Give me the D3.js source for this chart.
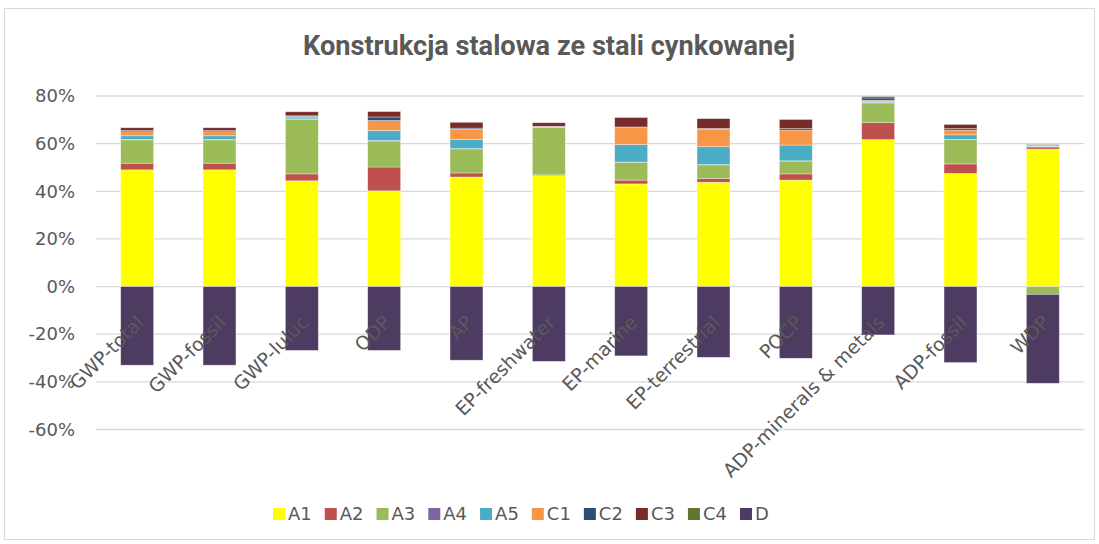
<!DOCTYPE html>
<html>
<head>
<meta charset="utf-8">
<script src="https://cdn.jsdelivr.net/npm/d3@7"></script>
<style>
  body { margin: 0; background: #fff; }
  text { font-family: "DejaVu Sans", "Liberation Sans", sans-serif; fill: #595959; }
</style>
</head>
<body>
<svg id="chart" width="1099" height="544"></svg>
<script>
// categories (impact indicators)
const categories = ["GWP-total", "GWP-fossil", "GWP-luluc", "ODP", "AP", "EP-freshwater",
  "EP-marine", "EP-terrestrial", "POCP", "ADP-minerals & metals", "ADP-fossil", "WDP"];

// module shares, percent
const A1 = [49.0, 49.0, 44.4, 40.2, 46.0, 46.6, 43.1, 43.8, 44.7, 61.7, 47.5, 57.7];
const A2 = [2.8, 2.8, 2.9, 10.0, 1.7, 0.3, 1.6, 1.6, 2.6, 7.1, 4.0, 0.9];
const A3 = [9.8, 9.8, 22.8, 10.9, 10.1, 20.0, 7.5, 5.7, 5.4, 8.3, 10.2, -3.3];
const A4 = [0.2, 0.2, 0.2, 0.2, 0.1, 0.0, 0.1, 0.1, 0.1, 0.2, 0.1, 0.1];
const A5 = [1.5, 1.5, 0.5, 4.2, 3.9, 0.1, 7.3, 7.5, 6.6, 0.5, 1.9, 0.3];
const C1 = [1.7, 1.7, 0.6, 4.2, 4.2, 0.2, 7.1, 7.4, 6.3, 0.4, 2.0, 0.2];
const C2 = [0.5, 0.5, 0.3, 1.5, 0.5, 0.1, 0.3, 0.3, 0.6, 1.0, 0.6, 0.1];
const C3 = [1.2, 1.2, 1.7, 2.3, 2.5, 1.5, 4.0, 4.1, 3.9, 0.6, 1.8, 0.3];
const C4 = [0.1, 0.1, 0.1, 0.1, 0.1, 0.1, 0.1, 0.1, 0.1, 0.1, 0.1, 0.1];
const D  = [-33.0, -33.0, -26.8, -26.8, -30.9, -31.4, -29.1, -29.7, -30.1, -20.3, -31.9, -37.3];

const seriesNames = ["A1", "A2", "A3", "A4", "A5", "C1", "C2", "C3", "C4", "D"];
const seriesValues = [A1, A2, A3, A4, A5, C1, C2, C3, C4, D];
const colors = ["#FFFF00", "#C0504D", "#9BBB59", "#8064A2", "#4BACC6",
  "#F79646", "#2C4D75", "#772C2A", "#5F7530", "#4D3B62"];
const yTicks = [-60, -40, -20, 0, 20, 40, 60, 80];

// build rows for d3.stack
const rows = categories.map((c, i) => {
  const r = { cat: c };
  seriesNames.forEach((s, j) => { r[s] = seriesValues[j][i]; });
  return r;
});

const svg = d3.select("#chart");

// chart frame
svg.append("rect")
  .attr("x", 4.5).attr("y", 8.5)
  .attr("width", 1090).attr("height", 531)
  .attr("fill", "#fff").attr("stroke", "#d9d9d9");

// title
svg.append("text")
  .attr("x", 549).attr("y", 55)
  .attr("text-anchor", "middle")
  .attr("textLength", 492).attr("lengthAdjust", "spacingAndGlyphs")
  .style("font-family", "Roboto, 'Liberation Sans', sans-serif")
  .style("font-size", "27px").style("font-weight", "bold")
  .text("Konstrukcja stalowa ze stali cynkowanej");

const x = d3.scaleBand().domain(categories).range([96, 1084])
  .paddingInner(0.6).paddingOuter(0.3);
const y = d3.scaleLinear().domain([-60, 80]).range([429.5, 96]);

// gridlines
svg.append("g")
  .selectAll("line")
  .data(yTicks).enter()
  .append("line")
  .attr("x1", 96).attr("x2", 1084)
  .attr("y1", d => y(d)).attr("y2", d => y(d))
  .attr("stroke", "#d9d9d9").attr("stroke-width", 1.3);

// y axis labels
const yAxis = svg.append("g")
  .attr("transform", "translate(75,0)")
  .call(d3.axisLeft(y).tickValues(yTicks).tickSize(0).tickPadding(0).tickFormat(d => d + "%"));
yAxis.select(".domain").remove();
yAxis.selectAll("text")
  .style("font-size", "18px")
  .style("font-family", "DejaVu Sans, sans-serif")
  .attr("fill", "#595959");

// stacked bars
const stack = d3.stack().keys(seriesNames).offset(d3.stackOffsetDiverging);
const layers = stack(rows);

svg.append("g")
  .selectAll("g")
  .data(layers).enter()
  .append("g")
  .attr("fill", (d, i) => colors[i])
  .selectAll("rect")
  .data(d => d).enter()
  .append("rect")
  .attr("x", d => x(d.data.cat))
  .attr("width", x.bandwidth())
  .attr("y", d => y(Math.max(d[0], d[1])))
  .attr("height", d => Math.abs(y(d[0]) - y(d[1])))
  .attr("stroke", "#ffffff").attr("stroke-opacity", 0.5).attr("stroke-width", 0.7);

// category labels, rotated
svg.append("g")
  .selectAll("text")
  .data(categories).enter()
  .append("text")
  .attr("transform", d => "translate(" + (x(d) + x.bandwidth() / 2 + 3) + "," + 319 + ") rotate(-45)")
  .attr("text-anchor", "end")
  .attr("dy", "0.35em")
  .style("font-size", "19px")
  .text(d => d);

// legend
const legend = svg.append("g");
let lx = 273;
seriesNames.forEach((s, i) => {
  legend.append("rect")
    .attr("x", lx).attr("y", 508)
    .attr("width", 12).attr("height", 12)
    .attr("fill", colors[i]);
  const t = legend.append("text")
    .attr("x", lx + 15).attr("y", 520)
    .style("font-size", "18px")
    .text(s);
  lx += 15 + t.node().getComputedTextLength() + 13;
});
</script>
</body>
</html>
